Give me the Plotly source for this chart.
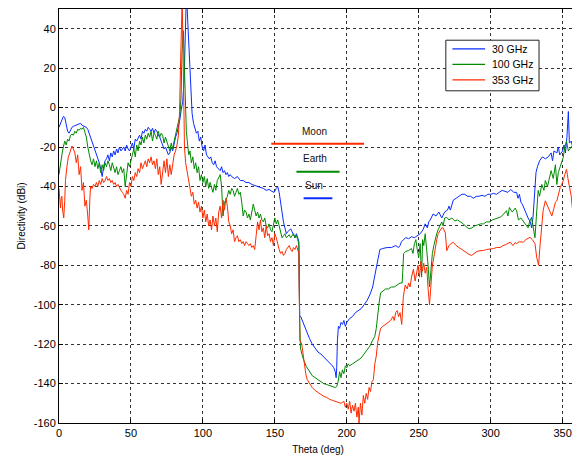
import plotly.graph_objects as go

# ---------------- data ----------------
blue_theta = [0,1,2,3,4,5,6,7,8,9,10,12,14,15,16,18,19,20,21,22,23,24,25,26,27,28,29,30,31,32,33,34,35,36,37,38,39,40,41,42,43,44,45,46,47,48,49,50,51,52,53,54,55,56,57,58,59,60,61,62,63,64,65,66,67,68,69,70,71,72,73,74,75,76,77,78,79,80,81,82,83,84,85,86,87,87.5,88,88.6,89.4,90.2,91,91.8,92.5,93.5,94.5,95.5,96.5,97.5,98.5,99.5,100.5,101.5,102.5,103.5,104.5,105.5,106.5,107.5,108.5,109.5,110.5,112,113,114,115,116,117,118,119,120,122,124,126,128,130,132,134,136,138,140,142,144,146,148,149.5,151,152,153,154,155,156,157,158,159,160,161,162,163,164,165,166,166.7,167,167.3,168,170,172,174,176,178,180,182,184,186,188,190,191,192,192.6,193,193.5,194.2,195,196,197,198,199,200,202,204,206,208,210,212,214,216,218,219,220,221,222,223,225,228,231,234,236,237,238,239.5,241,243,245,247,249,251,253,254.5,256,257,258,260,262,264,266,268,270,271,272,274,276,278,280,282,284,286,288,290,292,294,296,298,300,302,304,306,308,310,312,314,316,318,319,320,321,322,324,326,327.5,328.5,329.5,330.5,331.5,332.5,334,336,338,340,342,343,344,346,347,348,350,351,352,353,354,354.7,356,357,358,359,360]
blue_dbi = [-10,-8,-6,-4.5,-5,-8,-12,-13,-11,-10,-9.5,-9,-8.5,-8,-9,-9.5,-10,-11,-13,-15,-17,-19,-21,-23,-25,-28,-31,-35,-30,-27,-26,-24,-27,-23,-25,-22,-24,-21,-23,-20,-22,-21,-20,-22,-19,-21,-22,-20,-18,-21,-16,-17,-15,-14,-16,-12,-13,-11,-12,-10,-11,-12,-10.5,-13,-11,-12,-14,-15,-17,-19,-21,-20,-22,-24,-23,-20,-22,-18,-15,-13,-10,-6,-1,3,15,28,45,60,45,32,22,8,-3,-8,-10,-13,-12,-17,-15,-20,-22,-19,-24,-25,-26,-25,-28,-29,-27,-30,-31,-32,-30,-33,-32,-34,-33,-35,-34,-35,-36,-35,-37,-37,-38,-38,-39,-39.5,-40,-40.5,-41,-42,-41.5,-42.5,-43,-41,-40,-43,-48,-54,-58,-61,-64,-63,-62,-61.5,-63,-65,-66,-64,-67,-68,-90,-106,-106,-110,-114,-117,-120,-122,-124,-125,-126.5,-128,-129,-131,-132,-134,-137,-132,-118,-111,-112,-109,-110,-108,-111,-109,-107,-106,-104,-103,-102,-100,-98,-95,-91,-87,-83,-79,-75,-72,-71.5,-71,-71,-70,-71,-70,-68,-67,-66,-66.5,-65.5,-66,-65,-64,-62,-59,-61,-58,-57,-54,-55,-53,-56,-53,-52,-50,-52,-47,-46,-45,-44,-44,-45,-45,-46,-45,-45,-44.5,-45,-44,-44,-43.5,-44,-43,-42,-42.5,-43,-41.5,-43,-43,-46,-44,-48,-49,-53,-56,-58,-61,-55,-45,-33,-30,-27,-25,-26,-25,-23,-27,-22,-23,-20,-24,-22,-19,-23,-15,-2,-18,-17,-20,-15,-14,-13]

green_theta = [0,1,2,3,4,5,6,7,8,9,10,11,12,13,14,15,16,17,18,19,20,21,22,23,24,25,26,27,28,29,30,31,32,33,34,35,36,37,38,39,40,41,42,43,44,45,46,47,48,49,50,51,52,53,54,55,56,57,58,59,60,61,62,63,64,65,66,67,68,69,70,71,72,73,74,75,76,77,78,79,80,81,82,83,84,84.8,85.5,86.4,87.2,87.8,88.5,89.3,90.2,91,92,93,94,95,96,97,98,99,100,101,102,103,104,105,106,107,108,109,110,111,112,113,114,115,116,117,118,119,120,121,122,123,124,125,126,127,128,129,130,131,132,133,134,135,136,137,138,139,140,141,142,143,144,145,146,147,148,149,150,151,152,153,154,155,156,157,158,159,160,161,162,163,164,165,166,166.7,167.2,167.8,168.8,170,172,174,176,178,180,182,184,186,188,190,192,193,194,195,196,197,198,199,200,201,202,204,206,208,210,212,214,216,218,219.5,220.5,221.5,222.5,223.5,225,227,229,231,233,235,237,238.5,239,239.5,241,243,245,246,247,248,249,250,251,252,252.7,253.5,254.5,255.5,256.5,257.5,258.5,259.5,260.5,261.5,262.5,263.5,265,266,267,268,269.5,271,273,275,277,279,281,283,285,287,289,291,293,295,297,299.5,301,303,305,307,309,311,312,313,315,317,318,319.3,321,322.6,324,326,327,328.4,329.5,330.8,331.8,333,334,335.5,337,338,339.5,341,342,343.5,345,346,347,348.3,349.5,350.4,351.5,352.7,354,355,356.5,357.4,358.5,360]
green_dbi = [-34,-28,-24,-20,-17,-19,-16,-17,-14,-13.5,-14,-12,-13,-11,-11.5,-10.5,-11,-10,-12,-15,-20,-24,-27,-29,-26,-30,-27,-31,-28,-33,-29,-32,-28,-30,-27,-29,-32,-28,-31,-33,-30,-34,-32,-30,-33,-31,-40,-32,-28,-30,-26,-24,-21,-25,-19,-22,-17,-19,-15,-18,-14,-16,-13,-15,-12,-17,-13,-14,-16,-12,-15,-13,-14,-18,-15,-17,-20,-22,-18,-21,-17,-14,-10,-8,-4,5,28,39,20,3,-12,-18,-24,-22,-28,-25,-31,-28,-33,-30,-37,-34,-38,-35,-40,-36,-41,-38,-40,-43,-39,-42,-37,-35,-34,-40,-55,-48,-47,-45,-42,-44,-41,-42,-45,-43,-41,-44,-43,-48,-55,-52,-53,-56,-54,-57,-53,-49,-52,-55,-53,-56,-54,-57,-58,-56,-60,-61,-59,-62,-63,-60,-56,-59,-57,-60,-64,-66,-65,-64,-66,-65,-64.5,-66,-65,-64,-66,-65,-67,-70,-105,-122,-125,-128,-131.5,-134,-136,-137,-138,-139,-140,-140.5,-141,-141.5,-142,-141.5,-139,-134,-137,-133,-135,-131,-132,-130,-131,-130,-129,-128,-127,-125,-123,-121,-118,-116,-112,-104,-99,-94,-93,-92,-92,-91,-91,-90,-89,-89,-80,-74,-73,-72.5,-71.5,-74,-69,-67,-72,-76,-69,-86,-67,-70,-64,-71,-80,-91,-82,-74,-70,-66,-64,-62,-60,-58,-60,-56,-55.7,-57,-56,-57.5,-57,-58,-59,-60.5,-61.5,-61,-60,-59.5,-59,-59,-58,-58,-57,-56.5,-56,-55.5,-54,-52.3,-55,-50.7,-53,-51,-52.3,-57,-56,-57.4,-59,-61,-58,-55.7,-60,-66,-55,-42,-45,-39,-42,-37,-40,-35,-32,-36,-29,-39,-33,-30,-27,-25.4,-20,-17,-22,-21,-19,-18.7,-22,-25.4]

red_theta = [0,0.5,1,1.5,2,2.5,3.3,4,4.5,5.5,6.5,7.5,8.5,9,10,11,12,13,14,15,16,17,18,19,20,20.7,21.5,22,23,24,25,26,27,28,29,30,31,32,33,34,35,36,37,38,39,40,41,42,43,44,45,46,47,48,49,50,51,52,53,54,55,56,57,58,59,60,61,62,63,64,65,66,67,68,69,70,71,72,73,74,75,76,77,78,79,80,81,82,83,83.8,84.4,85,85.6,86.2,86.7,87.2,88,89,90,91,92,93,94,95,96,97,98,99,100,101,102,103,104,105,106,107,108,109,110,111,112,113,114,115,116,117,118,119,120,121,122,123,124,125,126,127,128,129,130,131,132,133,134,135,136,137,138,139,140,141,142,143,144,145,146,147,148,149,150,151,152,153,154,155,156,157,158,159,160,161,162,163,164,165,166,166.7,167,167.4,168.7,169.5,170.5,171.5,172.5,174,176,178,180,182,184,186,188,190,192,194,196,198,199,200,201,202,203,204,205,206,207,208,208.5,209.5,210.5,211.5,212.5,213.5,214.5,215.5,216.5,217.5,218.5,219.5,220.5,221.5,222.5,223.5,225,227,229,230.5,232,233,234,235,236,237,238.2,239.3,240.6,242,243,244,245,246.3,247.5,248.6,249.5,250.5,251.5,252.5,253.5,254.5,255.6,256.5,257.5,258.5,259.5,260.5,261.4,262.5,263.5,265,266,267,268.5,269.5,271,272.5,274,276,278,280,281.5,283.3,285,286.7,288.5,290.5,292.6,295,297,299.5,302,304,306.5,308.5,310.5,313.6,315.5,317,318,320,322.6,324.5,326,327.3,329,330.8,332,333.3,334.3,335.5,336.5,338,339,340,341.3,342.5,344,345,346,347,348.3,349.3,350.4,351.5,352.7,353.7,355,356,357.4,358.5,359.3,360]
red_dbi = [-41,-48,-51,-46,-45,-52,-56,-47,-37,-30,-25,-23,-20,-19.5,-21,-23,-28,-24,-34,-30,-42,-38,-50,-47,-55,-62,-45,-40,-41,-39,-40,-38,-40,-37,-39,-36,-38,-37,-35,-37,-36,-38,-37,-39,-38,-40,-39,-41,-42,-43,-44,-46,-42,-44,-38,-40,-35,-37,-33,-35,-31,-33,-28,-31,-29,-27,-30,-26,-28,-25,-29,-27,-31,-26,-34,-30,-39,-32,-27,-33,-26,-35,-29,-34,-28,-24,-22,-19,-14,-2,20,48,55,30,0,-20,-28,-32,-37,-42,-45,-43,-49,-47,-51,-48,-53,-50,-56,-52,-58,-54,-60,-57,-62,-55,-60,-56,-63,-53,-50,-56,-47,-52,-46,-50,-58,-60,-64,-62,-68,-66,-65,-68,-67,-69,-68,-70,-68,-69,-70,-69,-71,-70,-72,-65,-58,-62,-57,-63,-61,-66,-60,-65,-64,-68,-66,-70,-64,-66,-70,-72,-74,-73,-75,-74,-72,-71,-70,-72,-73,-71,-72,-70,-72,-74,-95,-118,-120,-125,-130,-135,-138,-140,-142,-143.5,-144.5,-145.5,-146.5,-147,-148,-148.5,-149,-149.5,-150,-149,-152,-150,-153,-149,-155,-151,-154,-150,-157,-152,-160,-150,-156,-146,-150,-145,-148,-142,-144,-139,-138,-130,-126,-119,-116,-112,-111,-110,-109,-108,-106,-108,-104,-103,-106,-104,-110,-96,-90,-92,-89,-91,-86,-82,-88,-84,-80,-86,-78,-83,-79,-84,-81,-92,-100,-90,-80,-76,-71,-67,-64,-62.4,-61,-61,-63.6,-72.6,-70,-69,-68.3,-70,-71,-72,-73,-74,-74.5,-75,-74,-73,-72.6,-72.5,-72,-71.8,-71.5,-71,-71,-70,-69.5,-68.3,-70,-68.5,-69,-68,-68.3,-67,-66.5,-65.8,-67,-69,-76,-80,-70,-59,-52,-47.3,-49,-50.7,-53,-55,-51,-48,-47.3,-44,-40.6,-39,-37.2,-34,-31.3,-36,-40.6,-45,-55.7,-42.2,-46,-44]

series_names = ["30 GHz", "100 GHz", "353 GHz"]
series_colors = ["#0a2cff", "#008a00", "#ff2a00"]

# reference markers drawn in the plot (label, colour, theta span, level)
marker_labels = ["Moon", "Earth", "Sun"]
marker_colors = ["#ff2a00", "#008a00", "#0a2cff"]
marker_theta0 = [147.5, 165, 170]
marker_theta1 = [212, 195, 190]
marker_level = [-18.4, -32.6, -46]
marker_label_theta = [177.5, 178, 177]
marker_label_level = [-12, -26, -39.7]

x_ticks = [0, 50, 100, 150, 200, 250, 300, 350]
y_ticks = [-160, -140, -120, -100, -80, -60, -40, -20, 0, 20, 40]

# ---------------- figure ----------------
FONT = "Liberation Sans, Arial, sans-serif"
fig = go.Figure()
for th, db, name, col in zip([blue_theta, green_theta, red_theta],
                             [blue_dbi, green_dbi, red_dbi],
                             series_names, series_colors):
    fig.add_trace(go.Scatter(x=th, y=db, mode="lines", name=name,
                             line=dict(color=col, width=1), showlegend=False))

for lab, col, t0, t1, lv, lt, ll in zip(marker_labels, marker_colors, marker_theta0,
                                         marker_theta1, marker_level,
                                         marker_label_theta, marker_label_level):
    fig.add_shape(type="line", xref="x", yref="y", x0=t0, x1=t1, y0=lv, y1=lv,
                  line=dict(color=col, width=2))
    fig.add_annotation(x=lt, y=ll, xref="x", yref="y", text=lab, showarrow=False,
                       font=dict(family=FONT, size=10, color="#111"))

# compact MATLAB-style legend box (paper coordinates of the plot area)
LEG_X0, LEG_X1, LEG_Y0, LEG_Y1 = 0.7468, 0.9267, 0.8024, 0.9246
LEG_ROWS = [0.9036, 0.8663, 0.8289]
fig.add_shape(type="rect", xref="paper", yref="paper", x0=LEG_X0, x1=LEG_X1,
              y0=LEG_Y0, y1=LEG_Y1, line=dict(color="#222", width=1),
              fillcolor="white", layer="above")
for name, col, ry in zip(series_names, series_colors, LEG_ROWS):
    fig.add_shape(type="line", xref="paper", yref="paper", x0=0.7595, x1=0.8226,
                  y0=ry, y1=ry, line=dict(color=col, width=1.3), layer="above")
    fig.add_annotation(x=0.8322, y=ry, xref="paper", yref="paper", text=name,
                       showarrow=False, xanchor="left", yanchor="middle",
                       font=dict(family=FONT, size=10.5, color="black"))

axis_common = dict(showline=True, linecolor="black", linewidth=1, mirror="ticks",
                   ticks="inside", ticklen=4, tickcolor="black",
                   showgrid=True, gridcolor="#333", griddash="dot", gridwidth=1,
                   zeroline=False, tickfont=dict(family=FONT, size=11, color="black"))

# the page body adds an 8 px margin, so the figure is sized to fit the window
fig.update_layout(
    width=572, height=447,
    margin=dict(l=50.5, r=3, t=0.5, b=32),
    paper_bgcolor="white", plot_bgcolor="white",
    font=dict(family=FONT, size=10, color="black"),
    showlegend=False,
    xaxis=dict(range=[0, 360], tickvals=x_ticks, ticktext=[str(v) for v in x_ticks],
               title=dict(text="Theta (deg)", font=dict(family=FONT, size=10), standoff=7),
               **axis_common),
    yaxis=dict(range=[-160, 50], tickvals=y_ticks, ticktext=[str(v) for v in y_ticks],
               title=dict(text="Directivity (dBi)", font=dict(family=FONT, size=10), standoff=6),
               **axis_common),
)

fig.write_html("out.html")
